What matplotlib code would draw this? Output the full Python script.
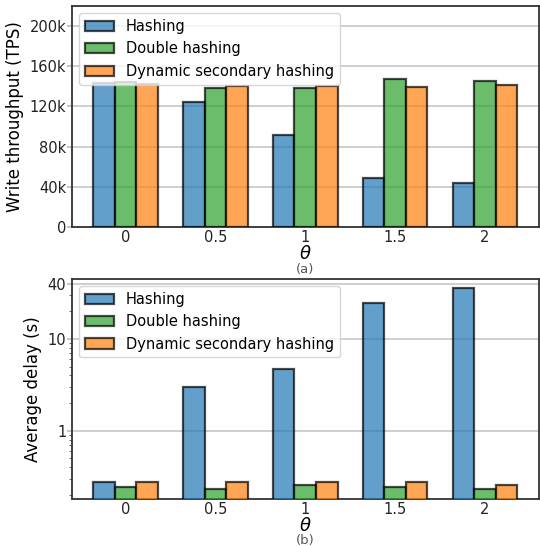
import matplotlib
matplotlib.use("Agg")
import matplotlib.pyplot as plt
import numpy as np
from matplotlib.ticker import FixedLocator, FuncFormatter, LogLocator, NullFormatter

categories = ["0", "0.5", "1", "1.5", "2"]
series_names = ["Hashing", "Double hashing", "Dynamic secondary hashing"]
colors = ["tab:blue", "tab:green", "tab:orange"]

throughput_hashing = [143000, 124000, 92000, 49000, 44000]
throughput_double = [144000, 138000, 138500, 147000, 145500]
throughput_dynamic = [142000, 140500, 140500, 139000, 141500]

delay_hashing = [0.276, 3.02, 4.75, 24.7, 36.0]
delay_double = [0.243, 0.233, 0.258, 0.245, 0.233]
delay_dynamic = [0.276, 0.276, 0.276, 0.277, 0.258]

tp_ticks = [0, 40000, 80000, 120000, 160000, 200000]
tp_labels = ["0", "40k", "80k", "120k", "160k", "200k"]
delay_ticks = [1, 10, 40]
delay_labels = ["1", "10", "40"]

fig = plt.figure(figsize=(5.4, 5.46), dpi=100)
ax1 = fig.add_axes([0.1333, 0.5842, 0.864, 0.4048])
ax2 = fig.add_axes([0.1333, 0.0861, 0.864, 0.403])

x = np.arange(len(categories))
w = 0.24

def draw(ax, data):
    for i, (vals, name, c) in enumerate(zip(data, series_names, colors)):
        ax.bar(x + (i - 1) * w, vals, width=w, color=c, edgecolor="black",
               linewidth=1.6, alpha=0.7, label=name, zorder=3)
    ax.set_xticks(x)
    ax.set_xticklabels(categories)
    ax.tick_params(axis="x", length=0, labelsize=10.5, pad=2.5, labelcolor="#222222")
    ax.tick_params(axis="y", which="major", length=3.5, width=1.2, labelsize=10.5,
                   pad=0.5, color="#bbbbbb", labelcolor="#222222")
    ax.tick_params(axis="y", which="minor", length=2.5, width=0.7, color="#666666")
    ax.yaxis.grid(True, color="#cccccc", linewidth=1.3, zorder=0)
    ax.set_axisbelow(True)
    for s in ax.spines.values():
        s.set_color("#333333")
        s.set_linewidth(1.3)
    ax.set_xlabel(r"$\theta$", fontsize=13, labelpad=0)
    ax.legend(loc="upper left", fontsize=10.5, framealpha=0.8, borderaxespad=0.5)

draw(ax1, [throughput_hashing, throughput_double, throughput_dynamic])
ax1.set_ylim(0, 220000)
ax1.set_yticks(tp_ticks)
ax1.set_yticklabels(tp_labels)
ax1.set_ylabel("Write throughput (TPS)", fontsize=12, labelpad=4)
ax1.text(0.5, -0.19, "(a)", transform=ax1.transAxes, ha="center", va="center",
         fontsize=9.5, color="#555555")

ax2.set_yscale("log")
draw(ax2, [delay_hashing, delay_double, delay_dynamic])
ax2.set_ylim(0.18, 45)
ax2.yaxis.set_major_locator(FixedLocator(delay_ticks))
ax2.yaxis.set_major_formatter(FuncFormatter(lambda v, p: delay_labels[delay_ticks.index(v)] if v in delay_ticks else ""))
ax2.yaxis.set_minor_locator(LogLocator(base=10, subs=np.arange(2, 10)))
ax2.yaxis.set_minor_formatter(NullFormatter())
ax2.set_ylabel("Average delay (s)", fontsize=12, labelpad=4)
ax2.text(0.5, -0.19, "(b)", transform=ax2.transAxes, ha="center", va="center",
         fontsize=9.5, color="#555555")

fig.savefig("out.png", dpi=100)
